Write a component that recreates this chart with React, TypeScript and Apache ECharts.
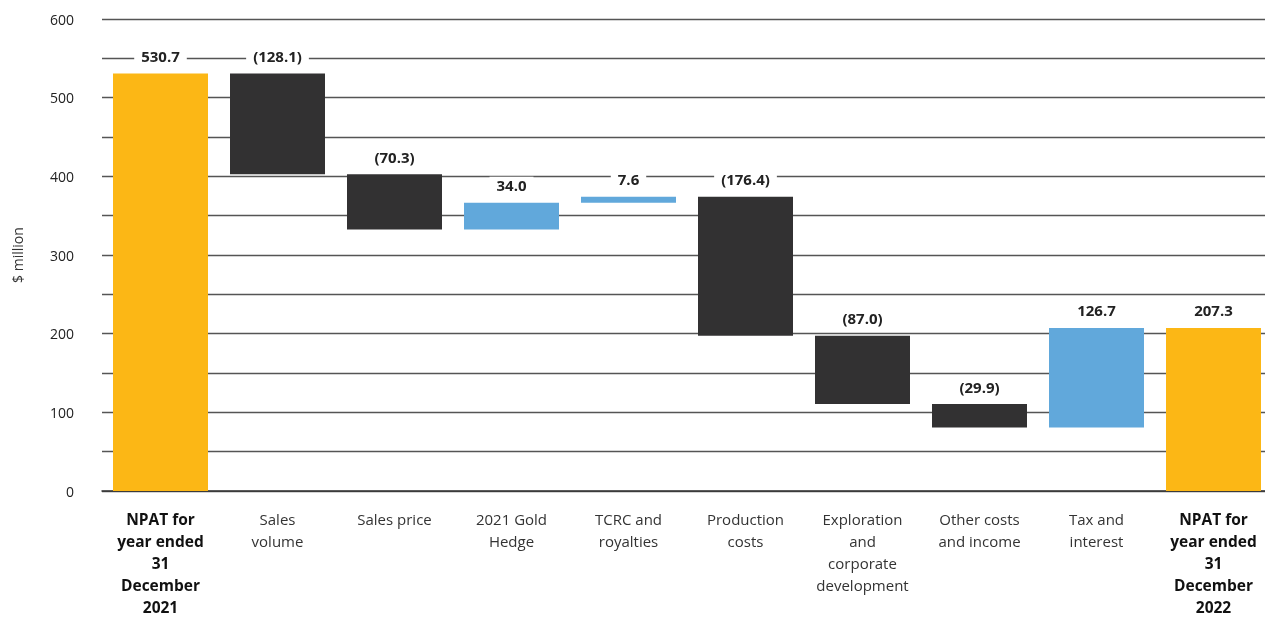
import React, { useEffect, useRef } from "react";
import * as echarts from "echarts";

const categories = [
  "NPAT for\nyear ended\n31\nDecember\n2021",
  "Sales\nvolume",
  "Sales price",
  "2021 Gold\nHedge",
  "TCRC and\nroyalties",
  "Production\ncosts",
  "Exploration\nand\ncorporate\ndevelopment",
  "Other costs\nand income",
  "Tax and\ninterest",
  "NPAT for\nyear ended\n31\nDecember\n2022",
];
const changes = [530.7, -128.1, -70.3, 34.0, 7.6, -176.4, -87.0, -29.9, 126.7, 207.3];
const isTotal = [true, false, false, false, false, false, false, false, false, true];
const yTicks = [0, 100, 200, 300, 400, 500, 600];

const YELLOW = "#FCB715";
const DARK = "#323132";
const BLUE = "#61A8DB";
const FONT = "Open Sans";

export default function App() {
  const ref = useRef<HTMLDivElement>(null);
  useEffect(() => {
    if (!ref.current) return;
    const chart = echarts.init(ref.current, undefined, { renderer: "svg" });
    const base: number[] = [];
    const height: any[] = [];
    let running = 0;
    changes.forEach((v, i) => {
      if (isTotal[i]) {
        base.push(0);
        running = v;
        height.push({ value: v, itemStyle: { color: YELLOW } });
      } else {
        const next = running + v;
        base.push(Math.min(running, next));
        height.push({ value: Math.abs(v), itemStyle: { color: v < 0 ? DARK : BLUE } });
        running = next;
      }
    });
    const fmt = (i: number) => {
      const v = changes[i];
      return v < 0 ? `(${Math.abs(v).toFixed(1)})` : v.toFixed(1);
    };
    chart.setOption({
      animation: false,
      grid: { left: 102, right: 0, top: 19, bottom: 128, outerBoundsMode: "none", containLabel: false },
      xAxis: {
        type: "category",
        data: categories,
        axisLine: { lineStyle: { color: "#333", width: 1.5 } },
        axisTick: { show: false },
        axisLabel: {
          interval: 0,
          margin: 17,
          fontFamily: FONT,
          fontSize: 15,
          lineHeight: 22,
          color: "#333",
          formatter: (val: string, idx: number) =>
            isTotal[idx] ? val.split("\n").map((s) => `{b|${s}}`).join("\n") : val,
          rich: {
            b: { fontFamily: FONT, fontSize: 15.5, fontWeight: "bold", color: "#111", lineHeight: 22 },
          },
        },
      },
      yAxis: {
        type: "value",
        min: 0,
        max: 600,
        interval: 50,
        name: "$ million",
        nameLocation: "middle",
        nameRotate: 90,
        nameGap: 78,
        nameTextStyle: { fontFamily: FONT, fontSize: 14, color: "#333" },
        axisLine: { show: false },
        axisTick: { show: false },
        axisLabel: {
          margin: 28,
          fontFamily: FONT,
          fontSize: 14,
          color: "#222",
          formatter: (v: number) => (yTicks.includes(v) ? String(v) : ""),
        },
        splitLine: { lineStyle: { color: "#555", width: 1.3 } },
      },
      series: [
        {
          type: "bar",
          stack: "w",
          data: base,
          itemStyle: { color: "transparent" },
          silent: true,
          barWidth: 95,
        },
        {
          type: "bar",
          stack: "w",
          data: height,
          barWidth: 95,
          label: {
            show: true,
            position: "top",
            distance: 9,
            formatter: (p: any) => fmt(p.dataIndex),
            fontFamily: FONT,
            fontSize: 15,
            fontWeight: "bold",
            color: "#222",
            backgroundColor: "#fff",
            padding: [1, 7],
          },
        },
      ],
    });
    return () => chart.dispose();
  }, []);
  return (
    <div
      ref={ref}
      style={{ position: "fixed", left: 0, top: 0, width: 1272, height: 619 }}
    />
  );
}
